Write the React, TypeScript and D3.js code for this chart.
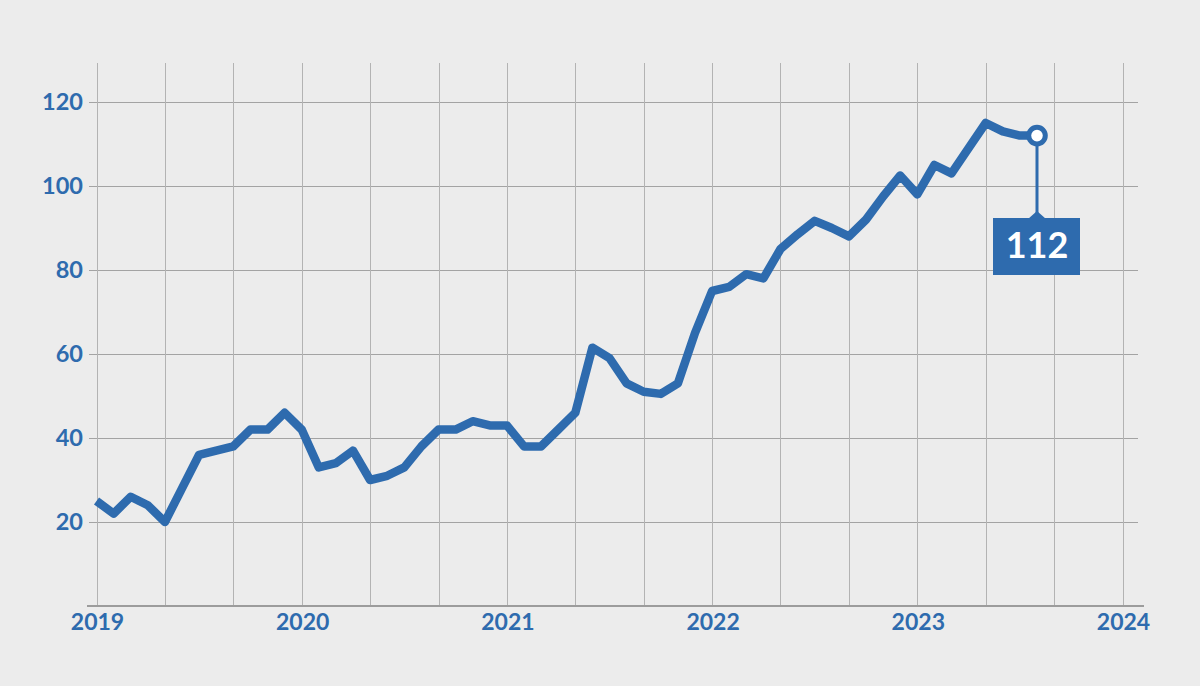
import React from "react";
import * as d3 from "d3";

// Monthly index values, Jan 2019 .. Aug 2023
const startMonth = "2019-01";
const values: number[] = [
  25, 22, 26, 24, 20, 28, 36, 37, 38, 42, 42, 46,
  42, 33, 34, 37, 30, 31, 33, 38, 42, 42, 44, 43,
  43, 38, 38, 42, 46, 61.5, 59, 53, 51, 50.5, 53, 65,
  75, 76, 79, 78, 85, 88.5, 91.7, 90, 88, 92, 97.5, 102.5,
  98, 105, 103, 109, 115, 113, 112, 112,
];
const yearLabels = ["2019", "2020", "2021", "2022", "2023", "2024"];
const yTicks = [20, 40, 60, 80, 100, 120];
const lastLabel = "112";

const W = 1200;
const H = 686;
const BLUE = "#2e6bae";
const BG = "#ececec";

export default function App() {
  const start = d3.timeParse("%Y-%m")(startMonth)!;
  const dates = values.map((_, i) => d3.timeMonth.offset(start, i));

  // month-index based scale so that 4-month gridlines are evenly spaced
  const monthIdx = (d: Date) => d3.timeMonth.count(start, d);
  const x = d3.scaleLinear().domain([0, 60]).range([96.5, 1122.5]);
  const y = d3.scaleLinear().domain([0, 120]).range([606, 102]);

  const gridMonths = d3.range(0, 61, 4);
  const line = d3
    .line<number>()
    .x((_, i) => x(monthIdx(dates[i])))
    .y((v) => y(v));

  const lastI = values.length - 1;
  const lx = x(monthIdx(dates[lastI]));
  const ly = y(values[lastI]);
  const boxTop = 218;
  const boxW = 87;
  const boxH = 57;

  return (
    <svg
      width={W}
      height={H}
      style={{ display: "block", position: "absolute", left: 0, top: 0 }}
    >
      <rect width={W} height={H} fill={BG} />
      {/* horizontal gridlines */}
      {yTicks.map((t) => (
        <line
          key={"h" + t}
          x1={89}
          x2={1138}
          y1={Math.round(y(t)) + 0.5}
          y2={Math.round(y(t)) + 0.5}
          stroke="#a3a3a3"
          strokeWidth={1}
        />
      ))}
      {/* vertical gridlines */}
      {gridMonths.map((m) => (
        <line
          key={"v" + m}
          x1={Math.round(x(m)) + 0.5}
          x2={Math.round(x(m)) + 0.5}
          y1={63}
          y2={606}
          stroke="#b3b3b3"
          strokeWidth={1}
        />
      ))}
      {/* baseline */}
      <line x1={87} x2={1144} y1={606} y2={606} stroke="#9c9c9c" strokeWidth={2} />
      {/* y labels */}
      {yTicks.map((t) => (
        <text
          key={"yl" + t}
          x={83}
          y={y(t)}
          dy="0.36em"
          textAnchor="end"
          fill={BLUE}
          fontFamily="Lato, 'Open Sans', sans-serif"
          fontWeight={700}
          fontSize={23.5}
        >
          {t}
        </text>
      ))}
      {/* x labels */}
      {yearLabels.map((lab, i) => (
        <text
          key={"xl" + lab}
          x={x(i * 12) + 1}
          y={630}
          textAnchor="middle"
          fill={BLUE}
          fontFamily="Lato, 'Open Sans', sans-serif"
          fontWeight={700}
          fontSize={23}
        >
          {lab}
        </text>
      ))}
      {/* data line */}
      <path
        d={line(values) || ""}
        fill="none"
        stroke={BLUE}
        strokeWidth={8.5}
        strokeLinejoin="round"
        strokeLinecap="butt"
      />
      {/* callout */}
      <line x1={lx} x2={lx} y1={ly} y2={boxTop} stroke={BLUE} strokeWidth={3} />
      <path
        d={`M${lx - 9},${boxTop + 1} L${lx},${boxTop - 7} L${lx + 9},${boxTop + 1} Z`}
        fill={BLUE}
      />
      <rect x={lx - 44} y={boxTop} width={boxW} height={boxH} fill={BLUE} />
      <text
        x={lx}
        y={258}
        textAnchor="middle"
        fill="#ffffff"
        fontFamily="Lato, 'Open Sans', sans-serif"
        fontWeight={700}
        fontSize={36}
      >
        {lastLabel}
      </text>
      <circle cx={lx} cy={ly} r={8.3} fill="#ffffff" stroke={BLUE} strokeWidth={5} />
    </svg>
  );
}
